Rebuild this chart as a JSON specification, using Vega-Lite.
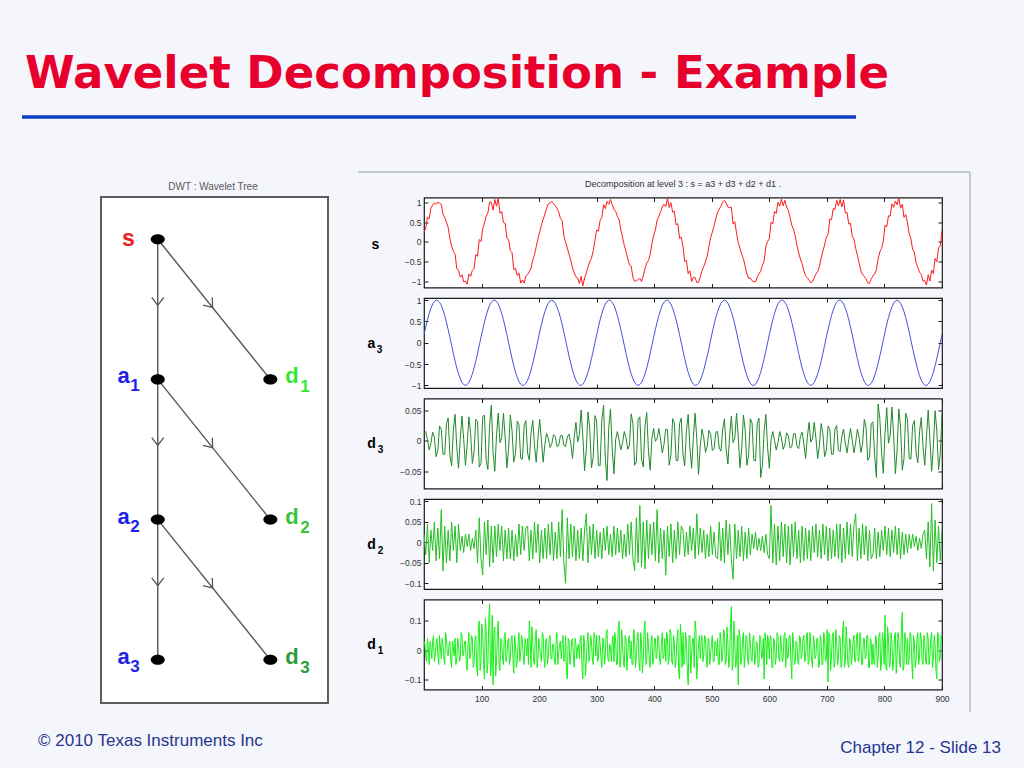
{
"$schema": "https://vega.github.io/schema/vega-lite/v6.json",
"background": "#f4f6fb",
"padding": 0,
"autosize": {"type": "pad"},
"bounds": "flush",
"spacing": 10.5,
"config": {
  "view": {"stroke": null},
  "axis": {"domain": false, "grid": false, "tickColor": "#1a1a1a", "tickSize": -4, "tickWidth": 1, "labelFont": "Liberation Sans", "labelFontSize": 8.5, "labelColor": "#333333", "labelPadding": 7, "labelFlush": false, "titleFont": "Liberation Sans"},
  "text": {"font": "Liberation Sans"}
},
"datasets": {
"nodes": [
 {"node":"s","letter":"s","sub":"","c":0,"l":0},
 {"node":"a1","letter":"a","sub":"1","c":0,"l":1},
 {"node":"d1","letter":"d","sub":"1","c":1,"l":1},
 {"node":"a2","letter":"a","sub":"2","c":0,"l":2},
 {"node":"d2","letter":"d","sub":"2","c":1,"l":2},
 {"node":"a3","letter":"a","sub":"3","c":0,"l":3},
 {"node":"d3","letter":"d","sub":"3","c":1,"l":3}
],
"edges": [
 {"c1":0,"l1":0,"c2":0,"l2":3},
 {"c1":0,"l1":0,"c2":1,"l2":1},
 {"c1":0,"l1":1,"c2":1,"l2":2},
 {"c1":0,"l1":2,"c2":1,"l2":3}
],
"arrows": [
 {"c":0,"l":0.45,"dir":"down"},
 {"c":0,"l":1.45,"dir":"down"},
 {"c":0,"l":2.45,"dir":"down"},
 {"c":0.47,"l":0.47,"dir":"diag"},
 {"c":0.47,"l":1.47,"dir":"diag"},
 {"c":0.47,"l":2.47,"dir":"diag"}
],
"sig": [
{"x":0,"s":0.25,"a3":0.19,"d3":0.012,"d2":0.02},
{"x":3,"s":0.34,"a3":0.37,"d3":0.015,"d2":-0.03},
{"x":6,"s":0.63,"a3":0.54,"d3":0.002,"d2":0.045},
{"x":9,"s":0.58,"a3":0.69,"d3":-0.015,"d2":-0.05},
{"x":12,"s":0.85,"a3":0.81,"d3":-0.004,"d2":0.03},
{"x":15,"s":0.93,"a3":0.91,"d3":0.014,"d2":-0.02},
{"x":18,"s":0.99,"a3":0.97,"d3":0.006,"d2":0.05},
{"x":21,"s":0.95,"a3":1.00,"d3":-0.026,"d2":-0.045},
{"x":24,"s":1.00,"a3":0.99,"d3":-0.016,"d2":0.035},
{"x":27,"s":0.98,"a3":0.95,"d3":0.024,"d2":-0.04},
{"x":30,"s":0.95,"a3":0.88,"d3":0.019,"d2":0.08},
{"x":33,"s":0.70,"a3":0.77,"d3":-0.022,"d2":-0.07},
{"x":36,"s":0.61,"a3":0.64,"d3":-0.022,"d2":0.04},
{"x":39,"s":0.50,"a3":0.48,"d3":0.028,"d2":-0.05},
{"x":42,"s":0.36,"a3":0.31,"d3":0.037,"d2":0.03},
{"x":45,"s":0.09,"a3":0.13,"d3":-0.023,"d2":-0.045},
{"x":48,"s":-0.11,"a3":-0.06,"d3":-0.041,"d2":0.05},
{"x":51,"s":-0.24,"a3":-0.25,"d3":0.017,"d2":-0.02},
{"x":54,"s":-0.31,"a3":-0.43,"d3":0.043,"d2":0.04},
{"x":57,"s":-0.68,"a3":-0.59,"d3":-0.011,"d2":-0.05},
{"x":60,"s":-0.71,"a3":-0.73,"d3":-0.045,"d2":0.045},
{"x":63,"s":-0.89,"a3":-0.84,"d3":0.004,"d2":-0.02},
{"x":66,"s":-0.83,"a3":-0.93,"d3":0.04,"d2":0.015},
{"x":69,"s":-1.01,"a3":-0.98,"d3":0.002,"d2":-0.025},
{"x":72,"s":-0.99,"a3":-1.00,"d3":-0.04,"d2":0.02},
{"x":75,"s":-1.07,"a3":-0.98,"d3":-0.007,"d2":-0.01},
{"x":78,"s":-0.81,"a3":-0.93,"d3":0.039,"d2":0.02},
{"x":81,"s":-0.87,"a3":-0.84,"d3":0.012,"d2":-0.02},
{"x":84,"s":-0.72,"a3":-0.73,"d3":-0.037,"d2":0.01},
{"x":87,"s":-0.67,"a3":-0.59,"d3":-0.018,"d2":-0.015},
{"x":90,"s":-0.32,"a3":-0.43,"d3":0.035,"d2":0.03},
{"x":93,"s":-0.36,"a3":-0.25,"d3":0.031,"d2":-0.05},
{"x":96,"s":0.06,"a3":-0.06,"d3":-0.043,"d2":0.06},
{"x":99,"s":0.01,"a3":0.13,"d3":-0.037,"d2":-0.04},
{"x":102,"s":0.33,"a3":0.31,"d3":0.039,"d2":-0.08},
{"x":105,"s":0.47,"a3":0.48,"d3":0.042,"d2":0.05},
{"x":108,"s":0.65,"a3":0.64,"d3":-0.032,"d2":-0.03},
{"x":111,"s":0.73,"a3":0.77,"d3":-0.047,"d2":0.055},
{"x":114,"s":1.01,"a3":0.88,"d3":0.026,"d2":-0.06},
{"x":117,"s":0.99,"a3":0.95,"d3":0.058,"d2":0.04},
{"x":120,"s":0.80,"a3":0.99,"d3":-0.019,"d2":-0.05},
{"x":123,"s":1.07,"a3":1.00,"d3":-0.05,"d2":0.04},
{"x":126,"s":0.90,"a3":0.97,"d3":0.009,"d2":-0.035},
{"x":129,"s":1.10,"a3":0.91,"d3":0.045,"d2":0.045},
{"x":132,"s":0.72,"a3":0.81,"d3":-0.003,"d2":-0.02},
{"x":135,"s":0.77,"a3":0.69,"d3":0.005,"d2":0.04},
{"x":138,"s":0.49,"a3":0.54,"d3":0.045,"d2":-0.045},
{"x":141,"s":0.47,"a3":0.37,"d3":0.006,"d2":0.03},
{"x":144,"s":0.09,"a3":0.19,"d3":-0.044,"d2":-0.04},
{"x":147,"s":0.06,"a3":0.00,"d3":-0.013,"d2":0.035},
{"x":150,"s":-0.22,"a3":-0.19,"d3":0.042,"d2":-0.04},
{"x":153,"s":-0.27,"a3":-0.37,"d3":0.016,"d2":0.03},
{"x":156,"s":-0.70,"a3":-0.54,"d3":-0.035,"d2":-0.045},
{"x":159,"s":-0.67,"a3":-0.69,"d3":-0.021,"d2":0.02},
{"x":162,"s":-0.85,"a3":-0.81,"d3":0.032,"d2":-0.035},
{"x":165,"s":-0.78,"a3":-0.91,"d3":0.026,"d2":0.045},
{"x":168,"s":-1.04,"a3":-0.97,"d3":-0.029,"d2":-0.03},
{"x":171,"s":-0.96,"a3":-1.00,"d3":-0.03,"d2":0.04},
{"x":174,"s":-1.04,"a3":-0.99,"d3":0.025,"d2":-0.02},
{"x":177,"s":-0.86,"a3":-0.95,"d3":0.033,"d2":0.035},
{"x":180,"s":-0.82,"a3":-0.88,"d3":-0.02,"d2":0.04},
{"x":183,"s":-0.75,"a3":-0.77,"d3":-0.032,"d2":-0.045},
{"x":186,"s":-0.66,"a3":-0.64,"d3":0.013,"d2":0.03},
{"x":189,"s":-0.46,"a3":-0.48,"d3":0.033,"d2":-0.04},
{"x":192,"s":-0.32,"a3":-0.31,"d3":-0.008,"d2":0.05},
{"x":195,"s":-0.12,"a3":-0.13,"d3":-0.035,"d2":-0.025},
{"x":198,"s":0.08,"a3":0.06,"d3":0.004,"d2":0.045},
{"x":201,"s":0.25,"a3":0.25,"d3":0.035,"d2":-0.05},
{"x":204,"s":0.42,"a3":0.43,"d3":0.001,"d2":0.03},
{"x":207,"s":0.57,"a3":0.59,"d3":-0.035,"d2":-0.04},
{"x":210,"s":0.70,"a3":0.73,"d3":-0.006,"d2":0.035},
{"x":213,"s":0.85,"a3":0.84,"d3":0.012,"d2":-0.04},
{"x":216,"s":0.96,"a3":0.93,"d3":0.004,"d2":0.045},
{"x":219,"s":0.99,"a3":0.98,"d3":-0.011,"d2":-0.03},
{"x":222,"s":1.02,"a3":1.00,"d3":-0.005,"d2":0.05},
{"x":225,"s":0.97,"a3":0.98,"d3":0.01,"d2":-0.045},
{"x":228,"s":0.91,"a3":0.93,"d3":0.007,"d2":0.025},
{"x":231,"s":0.85,"a3":0.84,"d3":-0.009,"d2":-0.04},
{"x":234,"s":0.76,"a3":0.73,"d3":-0.008,"d2":0.05},
{"x":237,"s":0.59,"a3":0.59,"d3":0.008,"d2":-0.035},
{"x":240,"s":0.54,"a3":0.43,"d3":0.009,"d2":0.08},
{"x":243,"s":0.15,"a3":0.25,"d3":-0.007,"d2":-0.05},
{"x":246,"s":0.00,"a3":0.06,"d3":-0.01,"d2":-0.1},
{"x":249,"s":-0.16,"a3":-0.13,"d3":0.006,"d2":0.06},
{"x":252,"s":-0.31,"a3":-0.31,"d3":0.011,"d2":-0.04},
{"x":255,"s":-0.46,"a3":-0.48,"d3":-0.004,"d2":0.045},
{"x":258,"s":-0.66,"a3":-0.64,"d3":-0.029,"d2":-0.035},
{"x":261,"s":-0.78,"a3":-0.77,"d3":0.006,"d2":0.04},
{"x":264,"s":-0.88,"a3":-0.88,"d3":0.03,"d2":-0.045},
{"x":267,"s":-0.91,"a3":-0.95,"d3":-0.002,"d2":0.03},
{"x":270,"s":-1.05,"a3":-0.99,"d3":0.01,"d2":-0.04},
{"x":273,"s":-0.87,"a3":-1.00,"d3":0.05,"d2":0.035},
{"x":276,"s":-1.11,"a3":-0.97,"d3":0.007,"d2":-0.045},
{"x":279,"s":-0.91,"a3":-0.91,"d3":-0.049,"d2":0.03},
{"x":282,"s":-0.79,"a3":-0.81,"d3":-0.014,"d2":0.07},
{"x":285,"s":-0.63,"a3":-0.69,"d3":0.047,"d2":-0.05},
{"x":288,"s":-0.50,"a3":-0.54,"d3":0.02,"d2":0.04},
{"x":291,"s":-0.41,"a3":-0.37,"d3":-0.044,"d2":-0.03},
{"x":294,"s":-0.22,"a3":-0.19,"d3":-0.027,"d2":0.045},
{"x":297,"s":0.04,"a3":0.00,"d3":0.041,"d2":-0.04},
{"x":300,"s":0.30,"a3":0.19,"d3":0.032,"d2":0.03},
{"x":303,"s":0.27,"a3":0.37,"d3":-0.04,"d2":-0.035},
{"x":306,"s":0.54,"a3":0.54,"d3":-0.041,"d2":0.025},
{"x":309,"s":0.62,"a3":0.69,"d3":0.034,"d2":-0.04},
{"x":312,"s":0.94,"a3":0.81,"d3":0.058,"d2":0.035},
{"x":315,"s":0.84,"a3":0.91,"d3":-0.028,"d2":-0.02},
{"x":318,"s":1.02,"a3":0.97,"d3":-0.065,"d2":0.04},
{"x":321,"s":0.95,"a3":1.00,"d3":0.021,"d2":-0.03},
{"x":324,"s":1.07,"a3":0.99,"d3":0.052,"d2":0.02},
{"x":327,"s":0.93,"a3":0.95,"d3":-0.013,"d2":-0.035},
{"x":330,"s":0.83,"a3":0.88,"d3":-0.054,"d2":0.04},
{"x":333,"s":0.77,"a3":0.77,"d3":0.002,"d2":-0.03},
{"x":336,"s":0.64,"a3":0.64,"d3":0.015,"d2":0.035},
{"x":339,"s":0.56,"a3":0.48,"d3":0.001,"d2":-0.025},
{"x":342,"s":0.30,"a3":0.31,"d3":-0.015,"d2":0.03},
{"x":345,"s":0.11,"a3":0.13,"d3":-0.003,"d2":-0.04},
{"x":348,"s":-0.09,"a3":-0.06,"d3":0.015,"d2":0.02},
{"x":351,"s":-0.24,"a3":-0.25,"d3":0.005,"d2":-0.035},
{"x":354,"s":-0.42,"a3":-0.43,"d3":-0.014,"d2":0.045},
{"x":357,"s":-0.58,"a3":-0.59,"d3":-0.007,"d2":-0.03},
{"x":360,"s":-0.61,"a3":-0.73,"d3":0.044,"d2":0.05},
{"x":363,"s":-0.90,"a3":-0.84,"d3":0.028,"d2":-0.04},
{"x":366,"s":-1.00,"a3":-0.93,"d3":-0.04,"d2":-0.07},
{"x":369,"s":-0.97,"a3":-0.98,"d3":-0.034,"d2":0.06},
{"x":372,"s":-0.96,"a3":-1.00,"d3":0.035,"d2":-0.05},
{"x":375,"s":-0.92,"a3":-0.98,"d3":0.039,"d2":0.09},
{"x":378,"s":-1.00,"a3":-0.93,"d3":-0.03,"d2":-0.06},
{"x":381,"s":-0.86,"a3":-0.84,"d3":-0.043,"d2":0.05},
{"x":384,"s":-0.67,"a3":-0.73,"d3":0.024,"d2":-0.065},
{"x":387,"s":-0.53,"a3":-0.59,"d3":0.046,"d2":0.055},
{"x":390,"s":-0.47,"a3":-0.43,"d3":-0.017,"d2":-0.04},
{"x":393,"s":-0.31,"a3":-0.25,"d3":-0.048,"d2":0.045},
{"x":396,"s":-0.04,"a3":-0.06,"d3":0.004,"d2":-0.03},
{"x":399,"s":0.17,"a3":0.13,"d3":0.02,"d2":0.05},
{"x":402,"s":0.30,"a3":0.31,"d3":-0.001,"d2":-0.045},
{"x":405,"s":0.55,"a3":0.48,"d3":0.003,"d2":0.08},
{"x":408,"s":0.64,"a3":0.64,"d3":0.02,"d2":-0.05},
{"x":411,"s":0.76,"a3":0.77,"d3":0.003,"d2":0.035},
{"x":414,"s":0.88,"a3":0.88,"d3":-0.02,"d2":-0.04},
{"x":417,"s":0.95,"a3":0.95,"d3":-0.006,"d2":0.03},
{"x":420,"s":0.89,"a3":0.99,"d3":0.019,"d2":-0.08},
{"x":423,"s":1.11,"a3":1.00,"d3":0.018,"d2":0.04},
{"x":426,"s":0.87,"a3":0.97,"d3":-0.04,"d2":-0.035},
{"x":429,"s":0.99,"a3":0.91,"d3":-0.024,"d2":0.045},
{"x":432,"s":0.75,"a3":0.81,"d3":0.036,"d2":-0.05},
{"x":435,"s":0.77,"a3":0.69,"d3":0.029,"d2":0.03},
{"x":438,"s":0.43,"a3":0.54,"d3":-0.032,"d2":-0.04},
{"x":441,"s":0.46,"a3":0.37,"d3":-0.033,"d2":0.05},
{"x":444,"s":0.09,"a3":0.19,"d3":0.028,"d2":-0.03},
{"x":447,"s":0.12,"a3":0.00,"d3":0.037,"d2":0.04},
{"x":450,"s":-0.12,"a3":-0.19,"d3":-0.023,"d2":0.03},
{"x":453,"s":-0.49,"a3":-0.37,"d3":-0.041,"d2":-0.035},
{"x":456,"s":-0.47,"a3":-0.54,"d3":0.017,"d2":0.025},
{"x":459,"s":-0.80,"a3":-0.69,"d3":0.043,"d2":-0.03},
{"x":462,"s":-0.73,"a3":-0.81,"d3":-0.011,"d2":0.04},
{"x":465,"s":-1.00,"a3":-0.91,"d3":-0.045,"d2":-0.02},
{"x":468,"s":-0.89,"a3":-0.97,"d3":0.005,"d2":0.035},
{"x":471,"s":-0.90,"a3":-1.00,"d3":0.045,"d2":-0.04},
{"x":474,"s":-1.02,"a3":-0.99,"d3":0.002,"d2":0.07},
{"x":477,"s":-1.02,"a3":-0.95,"d3":-0.055,"d2":-0.03},
{"x":480,"s":-0.88,"a3":-0.88,"d3":-0.008,"d2":0.035},
{"x":483,"s":-0.73,"a3":-0.77,"d3":0.019,"d2":-0.025},
{"x":486,"s":-0.62,"a3":-0.64,"d3":0.006,"d2":0.03},
{"x":489,"s":-0.50,"a3":-0.48,"d3":-0.019,"d2":-0.04},
{"x":492,"s":-0.36,"a3":-0.31,"d3":-0.009,"d2":0.02},
{"x":495,"s":-0.12,"a3":-0.13,"d3":0.017,"d2":-0.035},
{"x":498,"s":0.10,"a3":0.06,"d3":0.011,"d2":0.04},
{"x":501,"s":0.25,"a3":0.25,"d3":-0.016,"d2":-0.03},
{"x":504,"s":0.40,"a3":0.43,"d3":-0.013,"d2":0.025},
{"x":507,"s":0.59,"a3":0.59,"d3":0.014,"d2":-0.035},
{"x":510,"s":0.75,"a3":0.73,"d3":0.015,"d2":-0.04},
{"x":513,"s":0.83,"a3":0.84,"d3":-0.012,"d2":0.05},
{"x":516,"s":0.90,"a3":0.93,"d3":-0.017,"d2":-0.045},
{"x":519,"s":1.01,"a3":0.98,"d3":0.019,"d2":0.035},
{"x":522,"s":1.05,"a3":1.00,"d3":0.036,"d2":-0.05},
{"x":525,"s":0.98,"a3":0.98,"d3":-0.014,"d2":0.055},
{"x":528,"s":0.88,"a3":0.93,"d3":-0.038,"d2":-0.03},
{"x":531,"s":0.86,"a3":0.84,"d3":0.008,"d2":0.045},
{"x":534,"s":0.88,"a3":0.73,"d3":0.04,"d2":-0.04},
{"x":537,"s":0.45,"a3":0.59,"d3":-0.003,"d2":-0.09},
{"x":540,"s":0.51,"a3":0.43,"d3":0.004,"d2":0.045},
{"x":543,"s":0.22,"a3":0.25,"d3":0.045,"d2":-0.04},
{"x":546,"s":-0.02,"a3":0.06,"d3":0.006,"d2":0.03},
{"x":549,"s":-0.16,"a3":-0.13,"d3":-0.044,"d2":-0.035},
{"x":552,"s":-0.31,"a3":-0.31,"d3":-0.013,"d2":0.04},
{"x":555,"s":-0.42,"a3":-0.48,"d3":0.042,"d2":-0.045},
{"x":558,"s":-0.62,"a3":-0.64,"d3":0.018,"d2":0.025},
{"x":561,"s":-0.81,"a3":-0.77,"d3":-0.04,"d2":-0.04},
{"x":564,"s":-0.92,"a3":-0.88,"d3":-0.024,"d2":0.035},
{"x":567,"s":-0.91,"a3":-0.95,"d3":0.036,"d2":-0.03},
{"x":570,"s":-0.98,"a3":-0.99,"d3":0.029,"d2":0.02},
{"x":573,"s":-1.00,"a3":-1.00,"d3":-0.032,"d2":-0.015},
{"x":576,"s":-1.01,"a3":-0.97,"d3":-0.033,"d2":0.025},
{"x":579,"s":-0.88,"a3":-0.91,"d3":0.028,"d2":-0.02},
{"x":582,"s":-0.81,"a3":-0.81,"d3":0.037,"d2":0.01},
{"x":585,"s":-0.73,"a3":-0.69,"d3":-0.06,"d2":-0.02},
{"x":588,"s":-0.59,"a3":-0.54,"d3":-0.04,"d2":0.015},
{"x":591,"s":-0.48,"a3":-0.37,"d3":0.017,"d2":-0.025},
{"x":594,"s":-0.10,"a3":-0.19,"d3":0.043,"d2":0.02},
{"x":597,"s":0.01,"a3":0.00,"d3":-0.011,"d2":-0.03},
{"x":600,"s":0.08,"a3":0.19,"d3":-0.045,"d2":-0.04},
{"x":603,"s":0.50,"a3":0.37,"d3":0.002,"d2":0.09},
{"x":606,"s":0.45,"a3":0.54,"d3":0.015,"d2":-0.05},
{"x":609,"s":0.77,"a3":0.69,"d3":0.001,"d2":0.045},
{"x":612,"s":0.72,"a3":0.81,"d3":-0.015,"d2":-0.055},
{"x":615,"s":1.00,"a3":0.91,"d3":-0.003,"d2":0.04},
{"x":618,"s":0.90,"a3":0.97,"d3":0.015,"d2":-0.045},
{"x":621,"s":1.08,"a3":1.00,"d3":0.005,"d2":0.05},
{"x":624,"s":0.91,"a3":0.99,"d3":-0.014,"d2":-0.035},
{"x":627,"s":1.05,"a3":0.95,"d3":-0.007,"d2":0.045},
{"x":630,"s":0.88,"a3":0.88,"d3":0.013,"d2":-0.05},
{"x":633,"s":0.80,"a3":0.77,"d3":0.008,"d2":0.04},
{"x":636,"s":0.62,"a3":0.64,"d3":-0.012,"d2":-0.055},
{"x":639,"s":0.42,"a3":0.48,"d3":-0.01,"d2":0.045},
{"x":642,"s":0.32,"a3":0.31,"d3":0.011,"d2":-0.035},
{"x":645,"s":0.15,"a3":0.13,"d3":0.012,"d2":0.05},
{"x":648,"s":-0.09,"a3":-0.06,"d3":-0.009,"d2":-0.04},
{"x":651,"s":-0.28,"a3":-0.25,"d3":-0.013,"d2":0.03},
{"x":654,"s":-0.43,"a3":-0.43,"d3":0.007,"d2":-0.05},
{"x":657,"s":-0.55,"a3":-0.59,"d3":0.014,"d2":0.04},
{"x":660,"s":-0.73,"a3":-0.73,"d3":-0.005,"d2":-0.045},
{"x":663,"s":-0.86,"a3":-0.84,"d3":-0.029,"d2":0.035},
{"x":666,"s":-0.90,"a3":-0.93,"d3":0.006,"d2":-0.04},
{"x":669,"s":-0.96,"a3":-0.98,"d3":0.03,"d2":0.03},
{"x":672,"s":-1.03,"a3":-1.00,"d3":-0.002,"d2":-0.045},
{"x":675,"s":-1.00,"a3":-0.98,"d3":0.003,"d2":0.04},
{"x":678,"s":-0.90,"a3":-0.93,"d3":0.03,"d2":-0.025},
{"x":681,"s":-0.81,"a3":-0.84,"d3":0.004,"d2":0.045},
{"x":684,"s":-0.75,"a3":-0.73,"d3":-0.029,"d2":-0.035},
{"x":687,"s":-0.62,"a3":-0.59,"d3":-0.008,"d2":0.03},
{"x":690,"s":-0.41,"a3":-0.43,"d3":0.028,"d2":-0.04},
{"x":693,"s":-0.24,"a3":-0.25,"d3":0.012,"d2":0.045},
{"x":696,"s":-0.08,"a3":-0.06,"d3":-0.026,"d2":-0.03},
{"x":699,"s":0.12,"a3":0.13,"d3":-0.016,"d2":0.04},
{"x":702,"s":0.18,"a3":0.31,"d3":0.024,"d2":-0.045},
{"x":705,"s":0.58,"a3":0.48,"d3":0.019,"d2":0.035},
{"x":708,"s":0.56,"a3":0.64,"d3":-0.022,"d2":-0.04},
{"x":711,"s":0.84,"a3":0.77,"d3":-0.022,"d2":0.03},
{"x":714,"s":0.82,"a3":0.88,"d3":0.019,"d2":-0.035},
{"x":717,"s":1.05,"a3":0.95,"d3":0.025,"d2":0.045},
{"x":720,"s":0.91,"a3":0.99,"d3":-0.015,"d2":-0.04},
{"x":723,"s":1.07,"a3":1.00,"d3":-0.018,"d2":0.045},
{"x":726,"s":0.88,"a3":0.97,"d3":0.008,"d2":-0.05},
{"x":729,"s":1.06,"a3":0.91,"d3":0.019,"d2":0.035},
{"x":732,"s":0.73,"a3":0.81,"d3":-0.005,"d2":-0.04},
{"x":735,"s":0.74,"a3":0.69,"d3":-0.02,"d2":0.05},
{"x":738,"s":0.45,"a3":0.54,"d3":0.002,"d2":-0.03},
{"x":741,"s":0.47,"a3":0.37,"d3":0.02,"d2":0.045},
{"x":744,"s":0.14,"a3":0.19,"d3":0.001,"d2":-0.035},
{"x":747,"s":0.07,"a3":0.00,"d3":-0.02,"d2":0.04},
{"x":750,"s":-0.16,"a3":-0.19,"d3":-0.003,"d2":0.07},
{"x":753,"s":-0.34,"a3":-0.37,"d3":0.019,"d2":-0.045},
{"x":756,"s":-0.53,"a3":-0.54,"d3":0.006,"d2":0.035},
{"x":759,"s":-0.73,"a3":-0.69,"d3":-0.019,"d2":-0.04},
{"x":762,"s":-0.82,"a3":-0.81,"d3":-0.005,"d2":0.045},
{"x":765,"s":-0.87,"a3":-0.91,"d3":0.035,"d2":-0.03},
{"x":768,"s":-0.93,"a3":-0.97,"d3":0.022,"d2":0.04},
{"x":771,"s":-1.03,"a3":-1.00,"d3":-0.032,"d2":-0.045},
{"x":774,"s":-1.05,"a3":-0.99,"d3":-0.027,"d2":0.03},
{"x":777,"s":-0.93,"a3":-0.95,"d3":0.028,"d2":-0.04},
{"x":780,"s":-0.86,"a3":-0.88,"d3":0.031,"d2":-0.03},
{"x":783,"s":-0.81,"a3":-0.77,"d3":-0.024,"d2":0.035},
{"x":786,"s":-0.70,"a3":-0.64,"d3":-0.06,"d2":-0.04},
{"x":789,"s":-0.43,"a3":-0.48,"d3":0.06,"d2":0.025},
{"x":792,"s":-0.25,"a3":-0.31,"d3":0.036,"d2":-0.035},
{"x":795,"s":-0.16,"a3":-0.13,"d3":-0.019,"d2":0.03},
{"x":798,"s":0.02,"a3":0.06,"d3":-0.053,"d2":-0.02},
{"x":801,"s":0.42,"a3":0.25,"d3":0.012,"d2":0.04},
{"x":804,"s":0.38,"a3":0.43,"d3":0.054,"d2":-0.03},
{"x":807,"s":0.66,"a3":0.59,"d3":-0.004,"d2":0.035},
{"x":810,"s":0.65,"a3":0.73,"d3":0.008,"d2":-0.035},
{"x":813,"s":0.96,"a3":0.84,"d3":0.055,"d2":0.03},
{"x":816,"s":0.87,"a3":0.93,"d3":0.008,"d2":-0.025},
{"x":819,"s":1.03,"a3":0.98,"d3":-0.054,"d2":0.04},
{"x":822,"s":0.94,"a3":1.00,"d3":-0.015,"d2":-0.03},
{"x":825,"s":1.11,"a3":0.98,"d3":0.052,"d2":0.035},
{"x":828,"s":0.85,"a3":0.93,"d3":0.023,"d2":-0.04},
{"x":831,"s":0.95,"a3":0.84,"d3":-0.048,"d2":0.025},
{"x":834,"s":0.62,"a3":0.73,"d3":-0.029,"d2":-0.03},
{"x":837,"s":0.69,"a3":0.59,"d3":0.045,"d2":0.02},
{"x":840,"s":0.48,"a3":0.43,"d3":0.035,"d2":-0.025},
{"x":843,"s":0.21,"a3":0.25,"d3":-0.029,"d2":0.02},
{"x":846,"s":0.07,"a3":0.06,"d3":-0.03,"d2":-0.015},
{"x":849,"s":-0.19,"a3":-0.13,"d3":0.025,"d2":0.02},
{"x":852,"s":-0.26,"a3":-0.31,"d3":0.033,"d2":-0.01},
{"x":855,"s":-0.53,"a3":-0.48,"d3":-0.02,"d2":0.015},
{"x":858,"s":-0.64,"a3":-0.64,"d3":-0.036,"d2":-0.02},
{"x":861,"s":-0.77,"a3":-0.77,"d3":0.015,"d2":0.01},
{"x":864,"s":-0.82,"a3":-0.88,"d3":0.038,"d2":-0.015},
{"x":867,"s":-0.99,"a3":-0.95,"d3":-0.01,"d2":0.02},
{"x":870,"s":-0.97,"a3":-0.99,"d3":-0.04,"d2":0.03},
{"x":873,"s":-1.09,"a3":-1.00,"d3":0.005,"d2":-0.04},
{"x":876,"s":-0.83,"a3":-0.97,"d3":0.05,"d2":0.05},
{"x":879,"s":-0.99,"a3":-0.91,"d3":0.002,"d2":-0.06},
{"x":882,"s":-0.71,"a3":-0.81,"d3":-0.05,"d2":0.095},
{"x":885,"s":-0.80,"a3":-0.69,"d3":-0.009,"d2":-0.07},
{"x":888,"s":-0.42,"a3":-0.54,"d3":0.049,"d2":0.055},
{"x":891,"s":-0.50,"a3":-0.37,"d3":0.016,"d2":-0.05},
{"x":894,"s":-0.15,"a3":-0.19,"d3":-0.047,"d2":0.04},
{"x":897,"s":-0.10,"a3":0.00,"d3":-0.022,"d2":-0.045},
{"x":900,"s":0.28,"a3":0.19,"d3":0.044,"d2":0.03}
],
"d1": [
{"x":0,"d1":0.03},{"x":1.5,"d1":0.02},{"x":3,"d1":-0.02},{"x":4.5,"d1":-0.04},{"x":6,"d1":0.04},{"x":7.5,"d1":0.01},{"x":9,"d1":-0.05},{"x":10.5,"d1":0.03},{"x":12,"d1":0.01},{"x":13.5,"d1":-0.03},
{"x":15,"d1":0.03},{"x":16.5,"d1":0.05},{"x":18,"d1":-0.04},{"x":19.5,"d1":-0.02},{"x":21,"d1":0.02},{"x":22.5,"d1":0.04},{"x":24,"d1":-0.01},{"x":25.5,"d1":-0.05},{"x":27,"d1":0.05},{"x":28.5,"d1":0.01},
{"x":30,"d1":-0.03},{"x":31.5,"d1":0.04},{"x":33,"d1":0.02},{"x":34.5,"d1":-0.03},{"x":36,"d1":-0.05},{"x":37.5,"d1":0.06},{"x":39,"d1":0.04},{"x":40.5,"d1":-0.01},{"x":42,"d1":-0.02},{"x":43.5,"d1":0.02},
{"x":45,"d1":0.03},{"x":46.5,"d1":-0.04},{"x":48,"d1":-0.06},{"x":49.5,"d1":0.03},{"x":51,"d1":0.01},{"x":52.5,"d1":-0.02},{"x":54,"d1":0.04},{"x":55.5,"d1":-0.05},{"x":57,"d1":-0.03},{"x":58.5,"d1":0.04},
{"x":60,"d1":0.02},{"x":61.5,"d1":-0.04},{"x":63,"d1":-0.03},{"x":64.5,"d1":0.06},{"x":66,"d1":0.05},{"x":67.5,"d1":-0.02},{"x":69,"d1":-0.01},{"x":70.5,"d1":0.03},{"x":72,"d1":0.03},{"x":73.5,"d1":-0.05},
{"x":75,"d1":-0.07},{"x":76.5,"d1":0.02},{"x":78,"d1":0.06},{"x":79.5,"d1":-0.03},{"x":81,"d1":-0.02},{"x":82.5,"d1":0.05},{"x":84,"d1":0.04},{"x":85.5,"d1":-0.06},{"x":87,"d1":-0.05},{"x":88.5,"d1":0.03},
{"x":90,"d1":0.05},{"x":91.5,"d1":-0.06},{"x":93,"d1":-0.09},{"x":94.5,"d1":0.08},{"x":96,"d1":0.1},{"x":97.5,"d1":-0.07},{"x":99,"d1":-0.04},{"x":100.5,"d1":0.09},{"x":102,"d1":0.06},{"x":103.5,"d1":-0.05},
{"x":105,"d1":-0.1},{"x":106.5,"d1":0.11},{"x":108,"d1":0.07},{"x":109.5,"d1":-0.08},{"x":111,"d1":-0.05},{"x":112.5,"d1":0.1},{"x":114,"d1":0.16},{"x":115.5,"d1":-0.09},{"x":117,"d1":-0.06},{"x":118.5,"d1":0.12},
{"x":120,"d1":-0.12},{"x":121.5,"d1":0.06},{"x":123,"d1":0.08},{"x":124.5,"d1":-0.09},{"x":126,"d1":-0.04},{"x":127.5,"d1":0.05},{"x":129,"d1":0.1},{"x":130.5,"d1":-0.06},{"x":132,"d1":-0.07},{"x":133.5,"d1":0.04},
{"x":135,"d1":0.03},{"x":136.5,"d1":-0.03},{"x":138,"d1":-0.05},{"x":139.5,"d1":0.05},{"x":141,"d1":0.06},{"x":142.5,"d1":-0.04},{"x":144,"d1":-0.02},{"x":145.5,"d1":0.03},{"x":147,"d1":0.04},{"x":148.5,"d1":-0.05},
{"x":150,"d1":-0.03},{"x":151.5,"d1":0.04},{"x":153,"d1":0.05},{"x":154.5,"d1":-0.03},{"x":156,"d1":-0.08},{"x":157.5,"d1":0.05},{"x":159,"d1":0.02},{"x":160.5,"d1":-0.06},{"x":162,"d1":-0.04},{"x":163.5,"d1":0.02},
{"x":165,"d1":0.06},{"x":166.5,"d1":-0.04},{"x":168,"d1":-0.01},{"x":169.5,"d1":0.05},{"x":171,"d1":0.03},{"x":172.5,"d1":-0.03},{"x":174,"d1":-0.05},{"x":175.5,"d1":0.04},{"x":177,"d1":0.02},{"x":178.5,"d1":-0.02},
{"x":180,"d1":0.04},{"x":181.5,"d1":-0.05},{"x":183,"d1":0.1},{"x":184.5,"d1":0.03},{"x":186,"d1":-0.06},{"x":187.5,"d1":0.08},{"x":189,"d1":0.03},{"x":190.5,"d1":-0.04},{"x":192,"d1":-0.05},{"x":193.5,"d1":0.05},
{"x":195,"d1":0.07},{"x":196.5,"d1":-0.06},{"x":198,"d1":-0.03},{"x":199.5,"d1":0.04},{"x":201,"d1":0.01},{"x":202.5,"d1":-0.02},{"x":204,"d1":-0.04},{"x":205.5,"d1":0.06},{"x":207,"d1":0.05},{"x":208.5,"d1":-0.03},
{"x":210,"d1":-0.06},{"x":211.5,"d1":0.03},{"x":213,"d1":0.04},{"x":214.5,"d1":-0.05},{"x":216,"d1":-0.02},{"x":217.5,"d1":0.04},{"x":219,"d1":0.05},{"x":220.5,"d1":-0.03},{"x":222,"d1":-0.03},{"x":223.5,"d1":0.02},
{"x":225,"d1":0.02},{"x":226.5,"d1":-0.04},{"x":228,"d1":-0.05},{"x":229.5,"d1":0.03},{"x":231,"d1":0.06},{"x":232.5,"d1":-0.05},{"x":234,"d1":-0.01},{"x":235.5,"d1":0.02},{"x":237,"d1":0.03},{"x":238.5,"d1":-0.03},
{"x":240,"d1":0.02},{"x":241.5,"d1":0.05},{"x":243,"d1":-0.04},{"x":244.5,"d1":-0.03},{"x":246,"d1":0.05},{"x":247.5,"d1":-0.08},{"x":249,"d1":-0.1},{"x":250.5,"d1":0.04},{"x":252,"d1":0.03},{"x":253.5,"d1":-0.05},
{"x":255,"d1":-0.02},{"x":256.5,"d1":0.03},{"x":258,"d1":0.04},{"x":259.5,"d1":-0.02},{"x":261,"d1":-0.06},{"x":262.5,"d1":0.04},{"x":264,"d1":0.02},{"x":265.5,"d1":-0.03},{"x":267,"d1":0.01},{"x":268.5,"d1":0.02},
{"x":270,"d1":-0.03},{"x":271.5,"d1":0.04},{"x":273,"d1":0.05},{"x":274.5,"d1":-0.06},{"x":276,"d1":-0.1},{"x":277.5,"d1":0.05},{"x":279,"d1":0.02},{"x":280.5,"d1":-0.09},{"x":282,"d1":-0.04},{"x":283.5,"d1":0.03},
{"x":285,"d1":0.06},{"x":286.5,"d1":-0.04},{"x":288,"d1":-0.02},{"x":289.5,"d1":0.05},{"x":291,"d1":0.03},{"x":292.5,"d1":-0.03},{"x":294,"d1":-0.05},{"x":295.5,"d1":0.06},{"x":297,"d1":0.04},{"x":298.5,"d1":-0.02},
{"x":300,"d1":0.05},{"x":301.5,"d1":-0.04},{"x":303,"d1":-0.03},{"x":304.5,"d1":0.05},{"x":306,"d1":0.02},{"x":307.5,"d1":-0.03},{"x":309,"d1":-0.06},{"x":310.5,"d1":0.04},{"x":312,"d1":0.04},{"x":313.5,"d1":-0.05},
{"x":315,"d1":-0.02},{"x":316.5,"d1":0.06},{"x":318,"d1":0.07},{"x":319.5,"d1":-0.03},{"x":321,"d1":-0.04},{"x":322.5,"d1":0.02},{"x":324,"d1":0.01},{"x":325.5,"d1":-0.04},{"x":327,"d1":0.03},{"x":328.5,"d1":0.05},
{"x":330,"d1":-0.04},{"x":331.5,"d1":0.06},{"x":333,"d1":0.03},{"x":334.5,"d1":-0.05},{"x":336,"d1":-0.05},{"x":337.5,"d1":0.08},{"x":339,"d1":0.1},{"x":340.5,"d1":-0.06},{"x":342,"d1":-0.03},{"x":343.5,"d1":0.07},
{"x":345,"d1":0.02},{"x":346.5,"d1":-0.04},{"x":348,"d1":-0.06},{"x":349.5,"d1":0.05},{"x":351,"d1":0.04},{"x":352.5,"d1":-0.07},{"x":354,"d1":-0.02},{"x":355.5,"d1":0.04},{"x":357,"d1":0.05},{"x":358.5,"d1":-0.03},
{"x":360,"d1":0.03},{"x":361.5,"d1":-0.05},{"x":363,"d1":-0.05},{"x":364.5,"d1":0.07},{"x":366,"d1":0.04},{"x":367.5,"d1":-0.06},{"x":369,"d1":-0.02},{"x":370.5,"d1":0.05},{"x":372,"d1":0.06},{"x":373.5,"d1":-0.04},
{"x":375,"d1":-0.07},{"x":376.5,"d1":0.06},{"x":378,"d1":0.02},{"x":379.5,"d1":-0.08},{"x":381,"d1":-0.03},{"x":382.5,"d1":0.07},{"x":384,"d1":0.1},{"x":385.5,"d1":-0.05},{"x":387,"d1":-0.04},{"x":388.5,"d1":0.06},
{"x":390,"d1":0.02},{"x":391.5,"d1":-0.04},{"x":393,"d1":-0.06},{"x":394.5,"d1":0.03},{"x":396,"d1":0.05},{"x":397.5,"d1":-0.05},{"x":399,"d1":-0.03},{"x":400.5,"d1":0.04},{"x":402,"d1":0.04},{"x":403.5,"d1":-0.03},
{"x":405,"d1":-0.01},{"x":406.5,"d1":0.05},{"x":408,"d1":0.03},{"x":409.5,"d1":-0.04},{"x":411,"d1":-0.05},{"x":412.5,"d1":0.02},{"x":414,"d1":0.06},{"x":415.5,"d1":-0.03},{"x":417,"d1":-0.02},{"x":418.5,"d1":0.04},
{"x":420,"d1":-0.04},{"x":421.5,"d1":0.06},{"x":423,"d1":0.05},{"x":424.5,"d1":-0.05},{"x":426,"d1":-0.03},{"x":427.5,"d1":0.07},{"x":429,"d1":0.06},{"x":430.5,"d1":-0.04},{"x":432,"d1":-0.05},{"x":433.5,"d1":0.05},
{"x":435,"d1":0.02},{"x":436.5,"d1":-0.06},{"x":438,"d1":-0.04},{"x":439.5,"d1":0.04},{"x":441,"d1":0.07},{"x":442.5,"d1":-0.08},{"x":444,"d1":-0.1},{"x":445.5,"d1":0.09},{"x":447,"d1":0.04},{"x":448.5,"d1":-0.06},
{"x":450,"d1":0.06},{"x":451.5,"d1":-0.05},{"x":453,"d1":-0.04},{"x":454.5,"d1":0.06},{"x":456,"d1":0.03},{"x":457.5,"d1":-0.07},{"x":459,"d1":-0.12},{"x":460.5,"d1":0.05},{"x":462,"d1":0.05},{"x":463.5,"d1":-0.08},
{"x":465,"d1":-0.02},{"x":466.5,"d1":0.04},{"x":468,"d1":0.04},{"x":469.5,"d1":-0.06},{"x":471,"d1":0.1},{"x":472.5,"d1":0.07},{"x":474,"d1":-0.1},{"x":475.5,"d1":-0.04},{"x":477,"d1":0.02},{"x":478.5,"d1":0.05},
{"x":480,"d1":-0.03},{"x":481.5,"d1":0.03},{"x":483,"d1":0.05},{"x":484.5,"d1":-0.04},{"x":486,"d1":-0.02},{"x":487.5,"d1":0.05},{"x":489,"d1":0.04},{"x":490.5,"d1":-0.03},{"x":492,"d1":-0.06},{"x":493.5,"d1":0.04},
{"x":495,"d1":0.03},{"x":496.5,"d1":-0.05},{"x":498,"d1":-0.01},{"x":499.5,"d1":0.02},{"x":501,"d1":0.05},{"x":502.5,"d1":-0.04},{"x":504,"d1":-0.04},{"x":505.5,"d1":0.03},{"x":507,"d1":0.02},{"x":508.5,"d1":-0.02},
{"x":510,"d1":0.04},{"x":511.5,"d1":-0.05},{"x":513,"d1":-0.05},{"x":514.5,"d1":0.06},{"x":516,"d1":0.03},{"x":517.5,"d1":-0.04},{"x":519,"d1":-0.02},{"x":520.5,"d1":0.07},{"x":522,"d1":0.06},{"x":523.5,"d1":-0.05},
{"x":525,"d1":-0.04},{"x":526.5,"d1":0.08},{"x":528,"d1":0.02},{"x":529.5,"d1":-0.06},{"x":531,"d1":-0.03},{"x":532.5,"d1":0.09},{"x":534,"d1":0.15},{"x":535.5,"d1":-0.07},{"x":537,"d1":-0.05},{"x":538.5,"d1":0.1},
{"x":540,"d1":0.03},{"x":541.5,"d1":-0.06},{"x":543,"d1":-0.04},{"x":544.5,"d1":0.05},{"x":546,"d1":-0.12},{"x":547.5,"d1":0.07},{"x":549,"d1":0.05},{"x":550.5,"d1":-0.05},{"x":552,"d1":-0.03},{"x":553.5,"d1":0.04},
{"x":555,"d1":0.06},{"x":556.5,"d1":-0.06},{"x":558,"d1":-0.02},{"x":559.5,"d1":0.05},{"x":561,"d1":0.04},{"x":562.5,"d1":-0.04},{"x":564,"d1":-0.05},{"x":565.5,"d1":0.06},{"x":567,"d1":0.03},{"x":568.5,"d1":-0.03},
{"x":570,"d1":-0.04},{"x":571.5,"d1":0.04},{"x":573,"d1":0.05},{"x":574.5,"d1":-0.05},{"x":576,"d1":-0.03},{"x":577.5,"d1":0.03},{"x":579,"d1":0.02},{"x":580.5,"d1":-0.06},{"x":582,"d1":-0.05},{"x":583.5,"d1":0.05},
{"x":585,"d1":0.04},{"x":586.5,"d1":-0.03},{"x":588,"d1":-0.02},{"x":589.5,"d1":0.04},{"x":591,"d1":-0.1},{"x":592.5,"d1":0.06},{"x":594,"d1":0.03},{"x":595.5,"d1":-0.05},{"x":597,"d1":0.05},{"x":598.5,"d1":0.03},
{"x":600,"d1":-0.03},{"x":601.5,"d1":0.05},{"x":603,"d1":0.04},{"x":604.5,"d1":-0.06},{"x":606,"d1":-0.06},{"x":607.5,"d1":0.04},{"x":609,"d1":0.03},{"x":610.5,"d1":-0.05},{"x":612,"d1":-0.02},{"x":613.5,"d1":0.06},
{"x":615,"d1":0.05},{"x":616.5,"d1":-0.03},{"x":618,"d1":-0.04},{"x":619.5,"d1":0.05},{"x":621,"d1":0.02},{"x":622.5,"d1":-0.04},{"x":624,"d1":-0.03},{"x":625.5,"d1":0.05},{"x":627,"d1":0.06},{"x":628.5,"d1":-0.06},
{"x":630,"d1":0.04},{"x":631.5,"d1":-0.03},{"x":633,"d1":-0.02},{"x":634.5,"d1":0.05},{"x":636,"d1":0.05},{"x":637.5,"d1":-0.04},{"x":639,"d1":-0.1},{"x":640.5,"d1":0.06},{"x":642,"d1":0.03},{"x":643.5,"d1":-0.05},
{"x":645,"d1":-0.04},{"x":646.5,"d1":0.03},{"x":648,"d1":0.02},{"x":649.5,"d1":-0.04},{"x":651,"d1":-0.05},{"x":652.5,"d1":0.05},{"x":654,"d1":0.04},{"x":655.5,"d1":-0.03},{"x":657,"d1":-0.01},{"x":658.5,"d1":0.04},
{"x":660,"d1":0.05},{"x":661.5,"d1":-0.04},{"x":663,"d1":-0.03},{"x":664.5,"d1":0.05},{"x":666,"d1":0.06},{"x":667.5,"d1":-0.05},{"x":669,"d1":-0.04},{"x":670.5,"d1":0.06},{"x":672,"d1":0.02},{"x":673.5,"d1":-0.04},
{"x":675,"d1":-0.06},{"x":676.5,"d1":0.05},{"x":678,"d1":0.03},{"x":679.5,"d1":-0.03},{"x":681,"d1":-0.02},{"x":682.5,"d1":0.04},{"x":684,"d1":0.04},{"x":685.5,"d1":-0.06},{"x":687,"d1":-0.05},{"x":688.5,"d1":0.05},
{"x":690,"d1":0.03},{"x":691.5,"d1":-0.05},{"x":693,"d1":-0.05},{"x":694.5,"d1":0.06},{"x":696,"d1":0.04},{"x":697.5,"d1":-0.04},{"x":699,"d1":-0.03},{"x":700.5,"d1":0.07},{"x":702,"d1":-0.11},{"x":703.5,"d1":0.06},
{"x":705,"d1":0.05},{"x":706.5,"d1":-0.07},{"x":708,"d1":-0.02},{"x":709.5,"d1":0.05},{"x":711,"d1":0.06},{"x":712.5,"d1":-0.06},{"x":714,"d1":-0.04},{"x":715.5,"d1":0.07},{"x":717,"d1":0.03},{"x":718.5,"d1":-0.05},
{"x":720,"d1":-0.03},{"x":721.5,"d1":0.05},{"x":723,"d1":0.04},{"x":724.5,"d1":-0.06},{"x":726,"d1":-0.05},{"x":727.5,"d1":0.07},{"x":729,"d1":0.1},{"x":730.5,"d1":-0.06},{"x":732,"d1":-0.04},{"x":733.5,"d1":0.08},
{"x":735,"d1":0.02},{"x":736.5,"d1":-0.05},{"x":738,"d1":-0.06},{"x":739.5,"d1":0.04},{"x":741,"d1":0.03},{"x":742.5,"d1":-0.05},{"x":744,"d1":-0.02},{"x":745.5,"d1":0.03},{"x":747,"d1":0.05},{"x":748.5,"d1":-0.04},
{"x":750,"d1":-0.04},{"x":751.5,"d1":0.05},{"x":753,"d1":0.06},{"x":754.5,"d1":-0.04},{"x":756,"d1":-0.03},{"x":757.5,"d1":0.06},{"x":759,"d1":0.02},{"x":760.5,"d1":-0.05},{"x":762,"d1":-0.05},{"x":763.5,"d1":0.04},
{"x":765,"d1":0.04},{"x":766.5,"d1":-0.03},{"x":768,"d1":-0.02},{"x":769.5,"d1":0.05},{"x":771,"d1":0.05},{"x":772.5,"d1":-0.06},{"x":774,"d1":-0.06},{"x":775.5,"d1":0.04},{"x":777,"d1":0.03},{"x":778.5,"d1":-0.05},
{"x":780,"d1":0.02},{"x":781.5,"d1":-0.04},{"x":783,"d1":-0.05},{"x":784.5,"d1":0.05},{"x":786,"d1":0.04},{"x":787.5,"d1":-0.06},{"x":789,"d1":-0.03},{"x":790.5,"d1":0.05},{"x":792,"d1":0.06},{"x":793.5,"d1":-0.07},
{"x":795,"d1":-0.04},{"x":796.5,"d1":0.06},{"x":798,"d1":0.03},{"x":799.5,"d1":-0.05},{"x":801,"d1":0.12},{"x":802.5,"d1":-0.06},{"x":804,"d1":-0.07},{"x":805.5,"d1":0.08},{"x":807,"d1":0.04},{"x":808.5,"d1":-0.06},
{"x":810,"d1":-0.05},{"x":811.5,"d1":0.06},{"x":813,"d1":0.03},{"x":814.5,"d1":-0.07},{"x":816,"d1":-0.04},{"x":817.5,"d1":0.05},{"x":819,"d1":0.06},{"x":820.5,"d1":-0.08},{"x":822,"d1":-0.02},{"x":823.5,"d1":0.06},
{"x":825,"d1":0.04},{"x":826.5,"d1":-0.05},{"x":828,"d1":-0.06},{"x":829.5,"d1":0.08},{"x":831,"d1":0.13},{"x":832.5,"d1":-0.07},{"x":834,"d1":-0.05},{"x":835.5,"d1":0.06},{"x":837,"d1":0.03},{"x":838.5,"d1":-0.05},
{"x":840,"d1":0.04},{"x":841.5,"d1":-0.05},{"x":843,"d1":-0.03},{"x":844.5,"d1":0.06},{"x":846,"d1":0.05},{"x":847.5,"d1":-0.04},{"x":849,"d1":-0.1},{"x":850.5,"d1":0.05},{"x":852,"d1":0.03},{"x":853.5,"d1":-0.06},
{"x":855,"d1":-0.04},{"x":856.5,"d1":0.04},{"x":858,"d1":0.06},{"x":859.5,"d1":-0.05},{"x":861,"d1":-0.02},{"x":862.5,"d1":0.06},{"x":864,"d1":0.04},{"x":865.5,"d1":-0.04},{"x":867,"d1":-0.05},{"x":868.5,"d1":0.05},
{"x":870,"d1":0.03},{"x":871.5,"d1":-0.04},{"x":873,"d1":-0.05},{"x":874.5,"d1":0.06},{"x":876,"d1":0.04},{"x":877.5,"d1":-0.05},{"x":879,"d1":-0.02},{"x":880.5,"d1":0.04},{"x":882,"d1":0.06},{"x":883.5,"d1":-0.06},
{"x":885,"d1":-0.03},{"x":886.5,"d1":0.05},{"x":888,"d1":0.02},{"x":889.5,"d1":-0.07},{"x":891,"d1":-0.1},{"x":892.5,"d1":0.06},{"x":894,"d1":0.05},{"x":895.5,"d1":-0.04},{"x":897,"d1":-0.03},{"x":898.5,"d1":0.05},
{"x":900,"d1":0.02}
]
},
"vconcat": [
{
 "width": 518, "height": 186.5,
 "data": {"values": [{"k": 1}]},
 "resolve": {"scale": {"x": "independent", "y": "independent"}},
 "layer": [
  {"mark": {"type": "rect", "fill": "#f4f6fb"},
   "encoding": {"x": {"datum": 0, "type": "quantitative", "scale": {"domain": [0,1024], "range": [-424,600], "nice": false, "zero": false}, "axis": null}, "x2": {"datum": 1024},
                "y": {"datum": 0, "type": "quantitative", "scale": {"domain": [0,768], "range": [0,768], "nice": false, "zero": false}, "axis": null}, "y2": {"datum": 768}}},
  {"mark": {"type": "text", "text": "Wavelet Decomposition - Example", "align": "left", "baseline": "alphabetic", "font": "DejaVu Sans", "fontWeight": "bold", "fontSize": 45, "color": "#e8002d"},
   "encoding": {"x": {"datum": 25, "type": "quantitative", "scale": {"domain": [0,1024], "range": [-424,600], "nice": false, "zero": false}, "axis": null},
                "y": {"datum": 88, "type": "quantitative", "scale": {"domain": [0,768], "range": [0,768], "nice": false, "zero": false}, "axis": null}}},
  {"mark": {"type": "rule", "color": "#0b3ec1", "strokeWidth": 3.5},
   "encoding": {"x": {"datum": 22, "type": "quantitative", "scale": {"domain": [0,1024], "range": [-424,600], "nice": false, "zero": false}, "axis": null}, "x2": {"datum": 856},
                "y": {"datum": 117, "type": "quantitative", "scale": {"domain": [0,768], "range": [0,768], "nice": false, "zero": false}, "axis": null}}},
  {"mark": {"type": "rule", "color": "#b4b8c6", "strokeWidth": 1.5},
   "encoding": {"x": {"datum": 358, "type": "quantitative", "scale": {"domain": [0,1024], "range": [-424,600], "nice": false, "zero": false}, "axis": null}, "x2": {"datum": 970},
                "y": {"datum": 172, "type": "quantitative", "scale": {"domain": [0,768], "range": [0,768], "nice": false, "zero": false}, "axis": null}}},
  {"mark": {"type": "rule", "color": "#b4b8c6", "strokeWidth": 1.5},
   "encoding": {"x": {"datum": 970, "type": "quantitative", "scale": {"domain": [0,1024], "range": [-424,600], "nice": false, "zero": false}, "axis": null},
                "y": {"datum": 172, "type": "quantitative", "scale": {"domain": [0,768], "range": [0,768], "nice": false, "zero": false}, "axis": null}, "y2": {"datum": 712}}},
  {"mark": {"type": "text", "text": "DWT : Wavelet Tree", "align": "center", "baseline": "alphabetic", "fontSize": 10, "color": "#5a5a5a"},
   "encoding": {"x": {"datum": 213, "type": "quantitative", "scale": {"domain": [0,1024], "range": [-424,600], "nice": false, "zero": false}, "axis": null},
                "y": {"datum": 190, "type": "quantitative", "scale": {"domain": [0,768], "range": [0,768], "nice": false, "zero": false}, "axis": null}}},
  {"mark": {"type": "text", "text": "Decomposition at level 3 : s = a3 + d3 + d2 + d1 .", "align": "center", "baseline": "alphabetic", "fontSize": 9, "color": "#333333"},
   "encoding": {"x": {"datum": 683, "type": "quantitative", "scale": {"domain": [0,1024], "range": [-424,600], "nice": false, "zero": false}, "axis": null},
                "y": {"datum": 187, "type": "quantitative", "scale": {"domain": [0,768], "range": [0,768], "nice": false, "zero": false}, "axis": null}}},
  {"mark": {"type": "text", "text": "© 2010 Texas Instruments Inc", "align": "left", "baseline": "alphabetic", "fontSize": 17, "color": "#26358f"},
   "encoding": {"x": {"datum": 38, "type": "quantitative", "scale": {"domain": [0,1024], "range": [-424,600], "nice": false, "zero": false}, "axis": null},
                "y": {"datum": 746, "type": "quantitative", "scale": {"domain": [0,768], "range": [0,768], "nice": false, "zero": false}, "axis": null}}},
  {"mark": {"type": "text", "text": "Chapter 12 - Slide 13", "align": "right", "baseline": "alphabetic", "fontSize": 17, "color": "#26358f"},
   "encoding": {"x": {"datum": 1001, "type": "quantitative", "scale": {"domain": [0,1024], "range": [-424,600], "nice": false, "zero": false}, "axis": null},
                "y": {"datum": 753, "type": "quantitative", "scale": {"domain": [0,768], "range": [0,768], "nice": false, "zero": false}, "axis": null}}},
  {"mark": {"type": "rect", "fill": "#ffffff", "stroke": "#5c5c5c", "strokeWidth": 2},
   "encoding": {"x": {"datum": 101, "type": "quantitative", "scale": {"domain": [0,1024], "range": [-424,600], "nice": false, "zero": false}, "axis": null}, "x2": {"datum": 328},
                "y": {"datum": 197, "type": "quantitative", "scale": {"domain": [0,768], "range": [0,768], "nice": false, "zero": false}, "axis": null}, "y2": {"datum": 703}}},
  {"data": {"name": "edges"},
   "mark": {"type": "rule", "color": "#555555", "strokeWidth": 1.4},
   "encoding": {"x": {"field": "c1", "type": "quantitative", "scale": {"domain": [-0.504,1.512], "range": [-323,-96], "nice": false, "zero": false}, "axis": null}, "x2": {"field": "c2"},
                "y": {"field": "l1", "type": "quantitative", "scale": {"domain": [-0.301,3.308], "range": [197,703], "nice": false, "zero": false}, "axis": null}, "y2": {"field": "l2"}}},
  {"data": {"name": "arrows"},
   "transform": [{"filter": "datum.dir === 'down'"}],
   "mark": {"type": "point", "shape": "M-1,-0.8L0,0.5L1,-0.8", "size": 144, "filled": false, "stroke": "#555555", "strokeWidth": 1.3, "opacity": 1},
   "encoding": {"x": {"field": "c", "type": "quantitative", "scale": {"domain": [-0.504,1.512], "range": [-323,-96], "nice": false, "zero": false}, "axis": null},
                "y": {"field": "l", "type": "quantitative", "scale": {"domain": [-0.301,3.308], "range": [197,703], "nice": false, "zero": false}, "axis": null}}},
  {"data": {"name": "arrows"},
   "transform": [{"filter": "datum.dir === 'diag'"}],
   "mark": {"type": "point", "shape": "M-1,-0.8L0,0.5L1,-0.8", "size": 144, "filled": false, "stroke": "#555555", "strokeWidth": 1.3, "angle": 321, "opacity": 1},
   "encoding": {"x": {"field": "c", "type": "quantitative", "scale": {"domain": [-0.504,1.512], "range": [-323,-96], "nice": false, "zero": false}, "axis": null},
                "y": {"field": "l", "type": "quantitative", "scale": {"domain": [-0.301,3.308], "range": [197,703], "nice": false, "zero": false}, "axis": null}}},
  {"data": {"name": "nodes"},
   "mark": {"type": "point", "shape": "M-1,0A1,0.72,0,1,0,1,0A1,0.72,0,1,0,-1,0Z", "size": 196, "filled": true, "color": "#000000", "opacity": 1},
   "encoding": {"x": {"field": "c", "type": "quantitative", "scale": {"domain": [-0.504,1.512], "range": [-323,-96], "nice": false, "zero": false}, "axis": null},
                "y": {"field": "l", "type": "quantitative", "scale": {"domain": [-0.301,3.308], "range": [197,703], "nice": false, "zero": false}, "axis": null}}},
  {"data": {"name": "nodes"},
   "transform": [{"filter": "datum.node === 's'"}],
   "mark": {"type": "text", "align": "right", "baseline": "alphabetic", "dx": -23, "dy": 7, "fontSize": 23, "fontWeight": "bold"},
   "encoding": {"x": {"field": "c", "type": "quantitative", "scale": {"domain": [-0.504,1.512], "range": [-323,-96], "nice": false, "zero": false}, "axis": null},
                "y": {"field": "l", "type": "quantitative", "scale": {"domain": [-0.301,3.308], "range": [197,703], "nice": false, "zero": false}, "axis": null},
                "text": {"field": "letter"},
                "color": {"field": "node", "type": "nominal", "scale": {"domain": ["s","a1","a2","a3","d1","d2","d3"], "range": ["#ee1c24","#1e1ee6","#1e1ee6","#1e1ee6","#33e833","#36c436","#2c9a3e"]}, "legend": null}}},
  {"data": {"name": "nodes"},
   "transform": [{"filter": "datum.c === 0 && datum.l > 0"}],
   "mark": {"type": "text", "align": "right", "baseline": "alphabetic", "dx": -28, "dy": 4, "fontSize": 22, "fontWeight": "bold"},
   "encoding": {"x": {"field": "c", "type": "quantitative", "scale": {"domain": [-0.504,1.512], "range": [-323,-96], "nice": false, "zero": false}, "axis": null},
                "y": {"field": "l", "type": "quantitative", "scale": {"domain": [-0.301,3.308], "range": [197,703], "nice": false, "zero": false}, "axis": null},
                "text": {"field": "letter"},
                "color": {"field": "node", "type": "nominal", "scale": {"domain": ["s","a1","a2","a3","d1","d2","d3"], "range": ["#ee1c24","#1e1ee6","#1e1ee6","#1e1ee6","#33e833","#36c436","#2c9a3e"]}, "legend": null}}},
  {"data": {"name": "nodes"},
   "transform": [{"filter": "datum.c === 0 && datum.l > 0"}],
   "mark": {"type": "text", "align": "right", "baseline": "alphabetic", "dx": -18, "dy": 12, "fontSize": 17, "fontWeight": "bold"},
   "encoding": {"x": {"field": "c", "type": "quantitative", "scale": {"domain": [-0.504,1.512], "range": [-323,-96], "nice": false, "zero": false}, "axis": null},
                "y": {"field": "l", "type": "quantitative", "scale": {"domain": [-0.301,3.308], "range": [197,703], "nice": false, "zero": false}, "axis": null},
                "text": {"field": "sub"},
                "color": {"field": "node", "type": "nominal", "scale": {"domain": ["s","a1","a2","a3","d1","d2","d3"], "range": ["#ee1c24","#1e1ee6","#1e1ee6","#1e1ee6","#33e833","#36c436","#2c9a3e"]}, "legend": null}}},
  {"data": {"name": "nodes"},
   "transform": [{"filter": "datum.c === 1"}],
   "mark": {"type": "text", "align": "left", "baseline": "alphabetic", "dx": 15, "dy": 4, "fontSize": 22, "fontWeight": "bold"},
   "encoding": {"x": {"field": "c", "type": "quantitative", "scale": {"domain": [-0.504,1.512], "range": [-323,-96], "nice": false, "zero": false}, "axis": null},
                "y": {"field": "l", "type": "quantitative", "scale": {"domain": [-0.301,3.308], "range": [197,703], "nice": false, "zero": false}, "axis": null},
                "text": {"field": "letter"},
                "color": {"field": "node", "type": "nominal", "scale": {"domain": ["s","a1","a2","a3","d1","d2","d3"], "range": ["#ee1c24","#1e1ee6","#1e1ee6","#1e1ee6","#33e833","#36c436","#2c9a3e"]}, "legend": null}}},
  {"data": {"name": "nodes"},
   "transform": [{"filter": "datum.c === 1"}],
   "mark": {"type": "text", "align": "left", "baseline": "alphabetic", "dx": 30, "dy": 13, "fontSize": 17, "fontWeight": "bold"},
   "encoding": {"x": {"field": "c", "type": "quantitative", "scale": {"domain": [-0.504,1.512], "range": [-323,-96], "nice": false, "zero": false}, "axis": null},
                "y": {"field": "l", "type": "quantitative", "scale": {"domain": [-0.301,3.308], "range": [197,703], "nice": false, "zero": false}, "axis": null},
                "text": {"field": "sub"},
                "color": {"field": "node", "type": "nominal", "scale": {"domain": ["s","a1","a2","a3","d1","d2","d3"], "range": ["#ee1c24","#1e1ee6","#1e1ee6","#1e1ee6","#33e833","#36c436","#2c9a3e"]}, "legend": null}}}
 ]
},
{
 "width": 518, "height": 90,
 "view": {"stroke": "#1a1a1a", "strokeWidth": 1.2, "fill": "#ffffff"},
 "resolve": {"axis": {"x": "independent", "y": "independent"}},
 "layer": [
  {"data": {"name": "sig"}, "mark": {"type": "line", "color": "#ff1a1a", "strokeWidth": 1, "clip": true},
   "encoding": {
    "x": {"field": "x", "type": "quantitative", "scale": {"domain": [0,900], "nice": false, "zero": false}, "axis": {"orient": "bottom", "values": [100,200,300,400,500,600,700,800,900], "labels": false, "title": null}},
    "y": {"field": "s", "type": "quantitative", "scale": {"domain": [-1.15,1.12], "nice": false, "zero": false}, "axis": {"orient": "left", "values": [-1,-0.5,0,0.5,1], "format": "~g", "title": "s", "titleAngle": 0, "titleX": -49, "titleY": 47, "titleAlign": "center", "titleBaseline": "middle", "titleFontSize": 14, "titleFontWeight": "bold", "titleColor": "#000000"}}}},
  {"data": {"values": []}, "mark": {"type": "line"},
   "encoding": {
    "x": {"field": "x", "type": "quantitative", "scale": {"domain": [0,900], "nice": false, "zero": false}, "axis": {"orient": "top", "values": [100,200,300,400,500,600,700,800,900], "labels": false, "title": null}},
    "y": {"field": "s", "type": "quantitative", "scale": {"domain": [-1.15,1.12], "nice": false, "zero": false}, "axis": {"orient": "right", "values": [-1,-0.5,0,0.5,1], "labels": false, "title": null}}}}
 ]
},
{
 "width": 518, "height": 90,
 "view": {"stroke": "#1a1a1a", "strokeWidth": 1.2, "fill": "#ffffff"},
 "resolve": {"axis": {"x": "independent", "y": "independent"}},
 "layer": [
  {"data": {"name": "sig"}, "mark": {"type": "line", "color": "#4152d9", "strokeWidth": 1, "clip": true},
   "encoding": {
    "x": {"field": "x", "type": "quantitative", "scale": {"domain": [0,900], "nice": false, "zero": false}, "axis": {"orient": "bottom", "values": [100,200,300,400,500,600,700,800,900], "labels": false, "title": null}},
    "y": {"field": "a3", "type": "quantitative", "scale": {"domain": [-1.06,1.05], "nice": false, "zero": false}, "axis": {"orient": "left", "values": [-1,-0.5,0,0.5,1], "format": "~g", "title": "a", "titleAngle": 0, "titleX": -53, "titleY": 45, "titleAlign": "center", "titleBaseline": "middle", "titleFontSize": 14, "titleFontWeight": "bold", "titleColor": "#000000"}}}},
  {"data": {"values": []}, "mark": {"type": "line"},
   "encoding": {
    "x": {"field": "x", "type": "quantitative", "scale": {"domain": [0,900], "nice": false, "zero": false}, "axis": {"orient": "top", "values": [100,200,300,400,500,600,700,800,900], "labels": false, "title": null}},
    "y": {"field": "a3", "type": "quantitative", "scale": {"domain": [-1.06,1.05], "nice": false, "zero": false}, "axis": {"orient": "right", "values": [-1,-0.5,0,0.5,1], "labels": false, "title": "3", "titleAngle": 0, "titleX": -563, "titleY": 51, "titleAlign": "center", "titleBaseline": "middle", "titleFontSize": 10, "titleFontWeight": "bold", "titleColor": "#000000"}}}}
 ]
},
{
 "width": 518, "height": 90,
 "view": {"stroke": "#1a1a1a", "strokeWidth": 1.2, "fill": "#ffffff"},
 "resolve": {"axis": {"x": "independent", "y": "independent"}},
 "layer": [
  {"data": {"name": "sig"}, "mark": {"type": "line", "color": "#1f8a2a", "strokeWidth": 1, "clip": true},
   "encoding": {
    "x": {"field": "x", "type": "quantitative", "scale": {"domain": [0,900], "nice": false, "zero": false}, "axis": {"orient": "bottom", "values": [100,200,300,400,500,600,700,800,900], "labels": false, "title": null}},
    "y": {"field": "d3", "type": "quantitative", "scale": {"domain": [-0.078,0.069], "nice": false, "zero": false}, "axis": {"orient": "left", "values": [-0.05,0,0.05], "format": "~g", "title": "d", "titleAngle": 0, "titleX": -53, "titleY": 45, "titleAlign": "center", "titleBaseline": "middle", "titleFontSize": 14, "titleFontWeight": "bold", "titleColor": "#000000"}}}},
  {"data": {"values": []}, "mark": {"type": "line"},
   "encoding": {
    "x": {"field": "x", "type": "quantitative", "scale": {"domain": [0,900], "nice": false, "zero": false}, "axis": {"orient": "top", "values": [100,200,300,400,500,600,700,800,900], "labels": false, "title": null}},
    "y": {"field": "d3", "type": "quantitative", "scale": {"domain": [-0.078,0.069], "nice": false, "zero": false}, "axis": {"orient": "right", "values": [-0.05,0,0.05], "labels": false, "title": "3", "titleAngle": 0, "titleX": -562, "titleY": 51, "titleAlign": "center", "titleBaseline": "middle", "titleFontSize": 10, "titleFontWeight": "bold", "titleColor": "#000000"}}}}
 ]
},
{
 "width": 518, "height": 90,
 "view": {"stroke": "#1a1a1a", "strokeWidth": 1.2, "fill": "#ffffff"},
 "resolve": {"axis": {"x": "independent", "y": "independent"}},
 "layer": [
  {"data": {"name": "sig"}, "mark": {"type": "line", "color": "#25bf25", "strokeWidth": 1, "clip": true},
   "encoding": {
    "x": {"field": "x", "type": "quantitative", "scale": {"domain": [0,900], "nice": false, "zero": false}, "axis": {"orient": "bottom", "values": [100,200,300,400,500,600,700,800,900], "labels": false, "title": null}},
    "y": {"field": "d2", "type": "quantitative", "scale": {"domain": [-0.114,0.106], "nice": false, "zero": false}, "axis": {"orient": "left", "values": [-0.1,-0.05,0,0.05,0.1], "format": "~g", "title": "d", "titleAngle": 0, "titleX": -53, "titleY": 45, "titleAlign": "center", "titleBaseline": "middle", "titleFontSize": 14, "titleFontWeight": "bold", "titleColor": "#000000"}}}},
  {"data": {"values": []}, "mark": {"type": "line"},
   "encoding": {
    "x": {"field": "x", "type": "quantitative", "scale": {"domain": [0,900], "nice": false, "zero": false}, "axis": {"orient": "top", "values": [100,200,300,400,500,600,700,800,900], "labels": false, "title": null}},
    "y": {"field": "d2", "type": "quantitative", "scale": {"domain": [-0.114,0.106], "nice": false, "zero": false}, "axis": {"orient": "right", "values": [-0.1,-0.05,0,0.05,0.1], "labels": false, "title": "2", "titleAngle": 0, "titleX": -562, "titleY": 51, "titleAlign": "center", "titleBaseline": "middle", "titleFontSize": 10, "titleFontWeight": "bold", "titleColor": "#000000"}}}}
 ]
},
{
 "width": 518, "height": 90,
 "view": {"stroke": "#1a1a1a", "strokeWidth": 1.2, "fill": "#ffffff"},
 "resolve": {"axis": {"x": "independent", "y": "independent"}},
 "layer": [
  {"data": {"name": "d1"}, "mark": {"type": "line", "color": "#1aee1a", "strokeWidth": 1, "clip": true},
   "encoding": {
    "x": {"field": "x", "type": "quantitative", "scale": {"domain": [0,900], "nice": false, "zero": false}, "axis": {"orient": "bottom", "values": [100,200,300,400,500,600,700,800,900], "labels": true, "labelPadding": 9, "title": null}},
    "y": {"field": "d1", "type": "quantitative", "scale": {"domain": [-0.136,0.174], "nice": false, "zero": false}, "axis": {"orient": "left", "values": [-0.1,0,0.1], "format": "~g", "title": "d", "titleAngle": 0, "titleX": -53, "titleY": 45, "titleAlign": "center", "titleBaseline": "middle", "titleFontSize": 14, "titleFontWeight": "bold", "titleColor": "#000000"}}}},
  {"data": {"values": []}, "mark": {"type": "line"},
   "encoding": {
    "x": {"field": "x", "type": "quantitative", "scale": {"domain": [0,900], "nice": false, "zero": false}, "axis": {"orient": "top", "values": [100,200,300,400,500,600,700,800,900], "labels": false, "title": null}},
    "y": {"field": "d1", "type": "quantitative", "scale": {"domain": [-0.136,0.174], "nice": false, "zero": false}, "axis": {"orient": "right", "values": [-0.1,0,0.1], "labels": false, "title": "1", "titleAngle": 0, "titleX": -562, "titleY": 51, "titleAlign": "center", "titleBaseline": "middle", "titleFontSize": 10, "titleFontWeight": "bold", "titleColor": "#000000"}}}}
 ]
}
]
}
